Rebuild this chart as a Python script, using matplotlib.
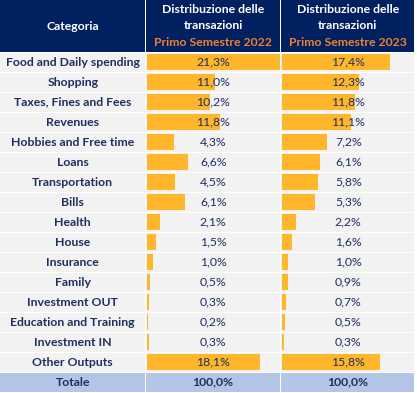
import matplotlib
matplotlib.use("Agg")
import matplotlib.pyplot as plt
from matplotlib.patches import Rectangle
import matplotlib.transforms as mtransforms

categories = ["Food and Daily spending", "Shopping", "Taxes, Fines and Fees", "Revenues",
              "Hobbies and Free time", "Loans", "Transportation", "Bills", "Health", "House",
              "Insurance", "Family", "Investment OUT", "Education and Training",
              "Investment IN", "Other Outputs"]
s2022 = [21.3, 11.0, 10.2, 11.8, 4.3, 6.6, 4.5, 6.1, 2.1, 1.5, 1.0, 0.5, 0.3, 0.2, 0.3, 18.1]
s2023 = [17.4, 12.3, 11.8, 11.1, 7.2, 6.1, 5.8, 5.3, 2.2, 1.6, 1.0, 0.9, 0.7, 0.5, 0.3, 15.8]
total_label = "Totale"
totals = [100.0, 100.0]
header_cat = "Categoria"
header_main = ["Distribuzione delle", "transazioni"]
header_periods = ["Primo Semestre 2022", "Primo Semestre 2023"]

W, H = 417, 393
NAVY = "#002060"
ORANGE = "#F08030"
BAR = "#FFB62A"
GRAY = "#F2F2F2"
TOT = "#B4C6E7"
TXT = "#1F2F5F"
FONT = "Lato"
FS = 8.8

fig = plt.figure(figsize=(W / 100, H / 100), dpi=100)
fig.patch.set_facecolor("white")

bg = fig.add_axes([0, 0, 1, 1])
bg.set_xlim(0, W)
bg.set_ylim(H, 0)
bg.axis("off")

cols = [(0, 145.5), (146.5, 279.8), (281.2, 414.5)]
header_top, header_bot = 0, 51.5
body_top, row_h = 52.5, 20.0
n = len(categories)
tot_top = body_top + n * row_h - 0.5
tot_bot = 391.5

for (x0, x1) in cols:
    bg.add_patch(Rectangle((x0, header_top), x1 - x0, header_bot - header_top, color=NAVY, lw=0))
    for i in range(n):
        y0 = body_top + i * row_h
        bg.add_patch(Rectangle((x0, y0), x1 - x0, row_h - 1.0, color=GRAY, lw=0))
    bg.add_patch(Rectangle((x0, tot_top + 0.5), x1 - x0, tot_bot - tot_top - 0.5, color=TOT, lw=0))

bg.text((cols[0][0] + cols[0][1]) / 2, 26, header_cat, color="white", fontsize=FS,
        fontweight="bold", family=FONT, ha="center", va="center")
for k, (x0, x1) in enumerate(cols[1:]):
    cx = (x0 + x1) / 2
    bg.text(cx, 9.5, header_main[0], color="white", fontsize=FS, fontweight="bold",
            family=FONT, ha="center", va="center")
    bg.text(cx, 25.5, header_main[1], color="white", fontsize=FS, fontweight="bold",
            family=FONT, ha="center", va="center")
    bg.text(cx, 43, header_periods[k], color=ORANGE, fontsize=FS, fontweight="bold",
            family=FONT, ha="center", va="center")

for i, c in enumerate(categories):
    yc = body_top + i * row_h + (row_h - 1) / 2
    bg.text((cols[0][0] + cols[0][1]) / 2, yc, c, color=TXT, fontsize=FS,
            fontweight="bold", family=FONT, ha="center", va="center")
yt = (tot_top + tot_bot) / 2 + 0.5
bg.text((cols[0][0] + cols[0][1]) / 2, yt, total_label, color=TXT, fontsize=FS,
        fontweight="bold", family=FONT, ha="center", va="center")

def fmt(v):
    return f"{v:.1f}%".replace(".", ",")

vmax = max(max(s2022), max(s2023))
for k, (vals, (x0, x1)) in enumerate(zip([s2022, s2023], cols[1:])):
    bx0 = x0 + 0.5 if k == 0 else x0 + 0.8
    ax = fig.add_axes([bx0 / W, 1 - (body_top + n * row_h) / H, 132.5 / W, (n * row_h) / H])
    ax.set_xlim(0, vmax)
    ax.set_ylim(n - 0.5 + 0.025, -0.5 + 0.025)
    ax.axis("off")
    ax.patch.set_alpha(0)
    ypos = list(range(n))
    ax.barh(ypos, vals, height=0.82, color=BAR, lw=0)
    tr = mtransforms.blended_transform_factory(ax.transAxes, ax.transData)
    for i, v in enumerate(vals):
        ax.text(0.5, i - 0.02, fmt(v), transform=tr, color=TXT, fontsize=FS,
                family=FONT, ha="center", va="center")
    bg.text((x0 + x1) / 2, yt, fmt(totals[k]), color=TXT, fontsize=FS,
            fontweight="bold", family=FONT, ha="center", va="center")

fig.savefig("out.png", dpi=100, facecolor="white")
